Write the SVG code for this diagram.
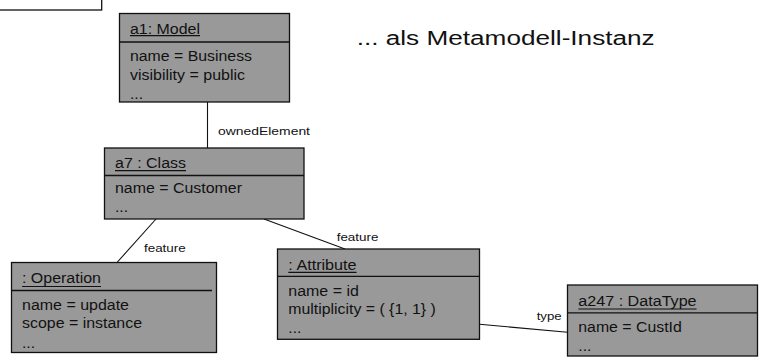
<svg xmlns="http://www.w3.org/2000/svg" width="762" height="361" viewBox="0 0 762 361">
  <style>
    .box { fill: #999999; stroke: #111111; stroke-width: 1.3; }
    .sep { stroke: #111111; stroke-width: 1.3; }
    .ul { stroke: #111111; stroke-width: 1.2; }
    .edge { stroke: #111111; stroke-width: 1.1; fill: none; }
    text { font-family: "Liberation Sans", Arial, sans-serif; fill: #111111; }
    .t { font-size: 14px; }
    .lbl { font-size: 11px; }
    .head { font-size: 20px; }
  </style>

  <!-- partially visible frame in the upper-left corner -->
  <rect x="-2" y="-2" width="103.7" height="12" fill="#ffffff" stroke="#111111" stroke-width="1.3"/>

  <!-- heading -->
  <text class="head" x="356.7" y="45" textLength="298" lengthAdjust="spacingAndGlyphs">... als Metamodell-Instanz</text>

  <!-- connectors -->
  <g id="connectors">
    <line class="edge" x1="207.5" y1="102" x2="207.5" y2="148"/>
    <text class="lbl" x="218" y="135" textLength="92" lengthAdjust="spacingAndGlyphs">ownedElement</text>

    <line class="edge" x1="156" y1="219" x2="117" y2="262.5"/>
    <text class="lbl" x="144" y="251.7" textLength="41.7" lengthAdjust="spacingAndGlyphs">feature</text>

    <line class="edge" x1="264" y1="219" x2="345" y2="249"/>
    <text class="lbl" x="336.7" y="240.7" textLength="41.7" lengthAdjust="spacingAndGlyphs">feature</text>

    <line class="edge" x1="479.5" y1="324.3" x2="567.5" y2="332.3"/>
    <text class="lbl" x="536.7" y="320" textLength="25" lengthAdjust="spacingAndGlyphs">type</text>
  </g>

  <!-- a1: Model -->
  <g id="a1">
    <rect class="box" x="119.5" y="13.5" width="170" height="88.5"/>
    <text class="t" x="130" y="33.5" textLength="70" lengthAdjust="spacingAndGlyphs">a1: Model</text>
    <line class="ul" x1="130" y1="35.6" x2="200" y2="35.6"/>
    <line class="sep" x1="119.5" y1="42" x2="289.5" y2="42"/>
    <text class="t" x="130" y="61" textLength="122" lengthAdjust="spacingAndGlyphs">name = Business</text>
    <text class="t" x="130" y="80" textLength="115" lengthAdjust="spacingAndGlyphs">visibility = public</text>
    <text class="t" x="130" y="99" textLength="13" lengthAdjust="spacingAndGlyphs">...</text>
  </g>

  <!-- a7 : Class -->
  <g id="a7">
    <rect class="box" x="104.5" y="148" width="199.5" height="71"/>
    <text class="t" x="115" y="168.3" textLength="71" lengthAdjust="spacingAndGlyphs">a7 : Class</text>
    <line class="ul" x1="115" y1="170.6" x2="186" y2="170.6"/>
    <line class="sep" x1="104.5" y1="175.5" x2="304" y2="175.5"/>
    <text class="t" x="115" y="193.3" textLength="127" lengthAdjust="spacingAndGlyphs">name = Customer</text>
    <text class="t" x="115" y="212" textLength="13" lengthAdjust="spacingAndGlyphs">...</text>
  </g>

  <!-- : Operation -->
  <g id="operation">
    <rect class="box" x="11.5" y="262.5" width="205" height="90"/>
    <text class="t" x="22" y="283.3" textLength="79" lengthAdjust="spacingAndGlyphs">: Operation</text>
    <line class="ul" x1="22" y1="286.5" x2="101" y2="286.5"/>
    <line class="sep" x1="11.5" y1="290.5" x2="212" y2="290.5"/>
    <text class="t" x="22" y="309.5" textLength="107" lengthAdjust="spacingAndGlyphs">name = update</text>
    <text class="t" x="22" y="328.3" textLength="120" lengthAdjust="spacingAndGlyphs">scope = instance</text>
    <text class="t" x="22" y="347.7" textLength="13" lengthAdjust="spacingAndGlyphs">...</text>
  </g>

  <!-- : Attribute -->
  <g id="attribute">
    <rect class="box" x="277.5" y="249" width="202" height="90.3"/>
    <text class="t" x="288.3" y="270" textLength="68.3" lengthAdjust="spacingAndGlyphs">: Attribute</text>
    <line class="ul" x1="288.3" y1="272.4" x2="356.6" y2="272.4"/>
    <line class="sep" x1="277.5" y1="276.3" x2="479.5" y2="276.3"/>
    <text class="t" x="288.3" y="296" textLength="70.5" lengthAdjust="spacingAndGlyphs">name = id</text>
    <text class="t" x="288.3" y="314.3" textLength="147.5" lengthAdjust="spacingAndGlyphs">multiplicity = ( {1, 1} )</text>
    <text class="t" x="288.3" y="333.3" textLength="13" lengthAdjust="spacingAndGlyphs">...</text>
  </g>

  <!-- a247 : DataType -->
  <g id="a247">
    <rect class="box" x="567.5" y="285" width="190" height="71"/>
    <text class="t" x="578.3" y="306" textLength="118.3" lengthAdjust="spacingAndGlyphs">a247 : DataType</text>
    <line class="ul" x1="578.3" y1="309" x2="696.6" y2="309"/>
    <line class="sep" x1="567.5" y1="312.8" x2="757.5" y2="312.8"/>
    <text class="t" x="578.3" y="331.7" textLength="103.5" lengthAdjust="spacingAndGlyphs">name = CustId</text>
    <text class="t" x="578.3" y="350.7" textLength="13" lengthAdjust="spacingAndGlyphs">...</text>
  </g>
</svg>
